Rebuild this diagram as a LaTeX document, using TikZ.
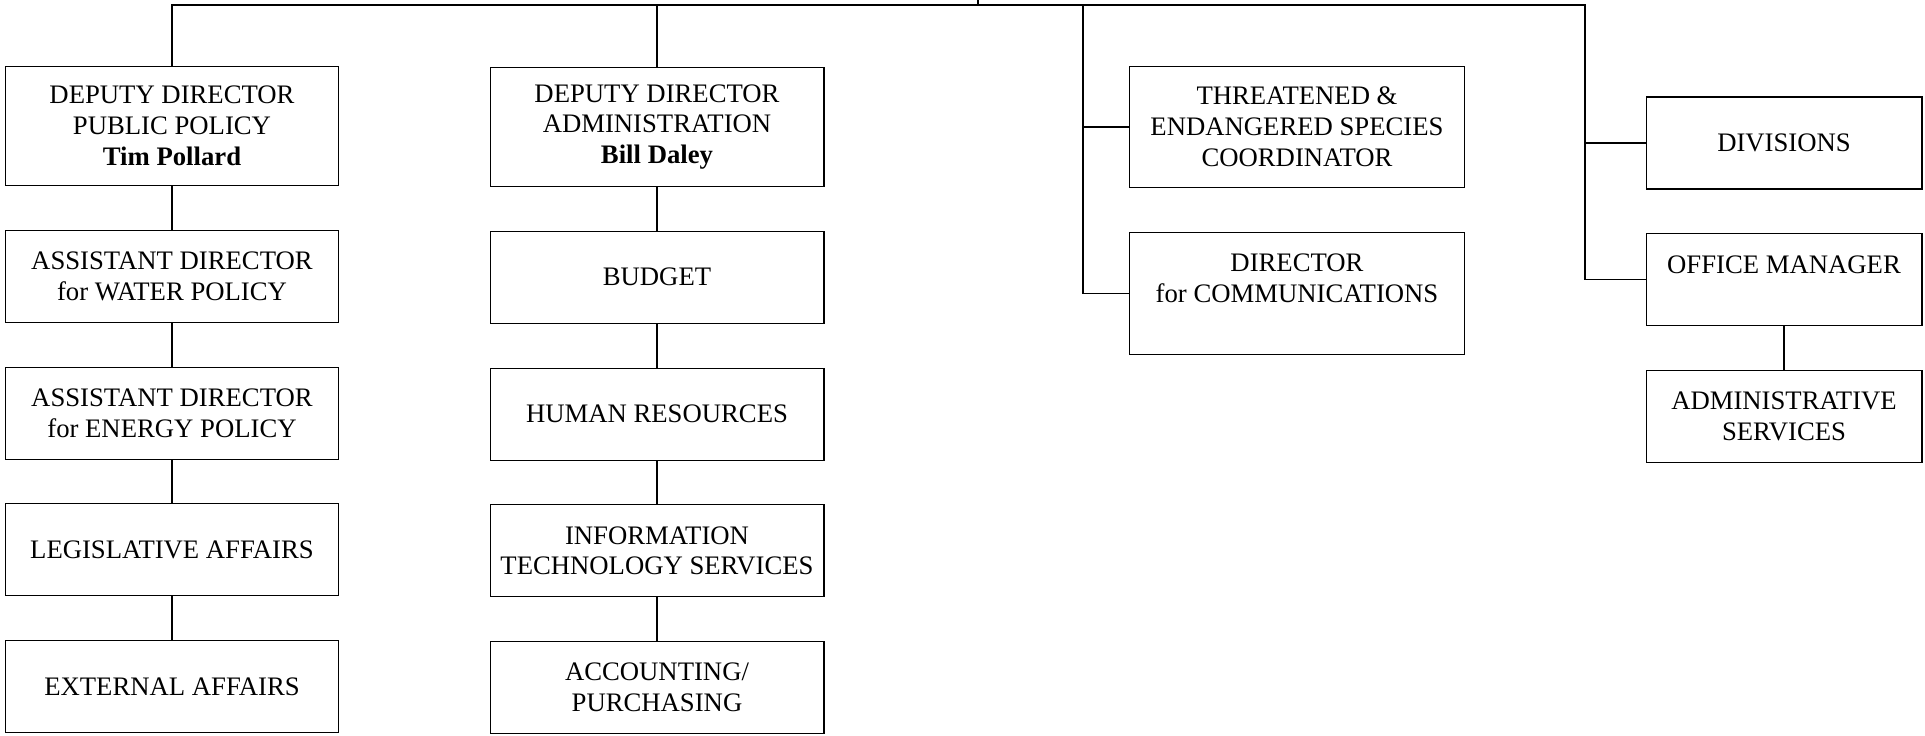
\documentclass[tikz,border=0pt]{standalone}
\usepackage{fontspec}
\setmainfont{Liberation Serif}
\usetikzlibrary{positioning}

\begin{document}
\begin{tikzpicture}[x=0.02cm, y=-0.02cm, line width=0.6pt, node distance=0.875cm,
      every node/.style={draw, rectangle, align=center, inner sep=2pt,
                         font=\fontsize{15.2}{17.6}\selectfont},
      office/.style={minimum width=6.68cm, minimum height=1.84cm},
      head/.style={minimum width=6.68cm, minimum height=2.38cm},
      staff/.style={minimum width=5.52cm, minimum height=1.84cm}]

   \useasboundingbox (0,0) rectangle (1925,736);

   % public policy column
   \node[head] (policy) at (172,126) {DEPUTY DIRECTOR\\PUBLIC POLICY\\\textbf{Tim Pollard}};
   \node[office, below=of policy] (water) {ASSISTANT DIRECTOR\\for WATER POLICY};
   \node[office, below=of water] (energy) {ASSISTANT DIRECTOR\\for ENERGY POLICY};
   \node[office, below=of energy] (legis) {LEGISLATIVE AFFAIRS};
   \node[office, below=of legis] (extern) {EXTERNAL AFFAIRS};

   % administration column
   \node[head] (admin) at (657,127) {DEPUTY DIRECTOR\\ADMINISTRATION\\\textbf{Bill Daley}};
   \node[office, below=of admin] (budget) {BUDGET};
   \node[office, below=of budget] (human) {HUMAN RESOURCES};
   \node[office, below=of human] (infotech) {INFORMATION\\TECHNOLOGY SERVICES};
   \node[office, below=of infotech] (account) {ACCOUNTING/\\PURCHASING};

   % coordinators
   \node[head, minimum width=6.7cm, minimum height=2.43cm] (species) at (1297,127)
        {THREATENED \&\\ENDANGERED SPECIES\\COORDINATOR};
   \node[head, minimum width=6.7cm, minimum height=2.43cm, below=0.88cm of species] (comms)
        {DIRECTOR\\for COMMUNICATIONS\\~};

   % divisions and office
   \node[staff] (divisions) at (1784,143) {DIVISIONS};
   \node[staff, below=of divisions] (manager) {OFFICE MANAGER\\~};
   \node[staff, below=of manager] (services) {ADMINISTRATIVE\\SERVICES};

   \coordinate (root) at (978,0);
   \coordinate (spineC) at (1083,5);
   \coordinate (spineD) at (1585,5);

   % top bar and branches
   \draw (policy.north) |- (spineD) |- (manager.west);
   \draw (root) -- (root |- spineD);
   \draw (admin.north) -- (admin.north |- spineD);
   \draw (spineC) |- (comms.west);
   \draw (spineC |- species.west) -- (species.west);
   \draw (spineD |- divisions.west) -- (divisions.west);

   % chains
   \draw (policy) -- (water) -- (energy) -- (legis) -- (extern);
   \draw (admin) -- (budget) -- (human) -- (infotech) -- (account);
   \draw (manager) -- (services);
\end{tikzpicture}
\end{document}
